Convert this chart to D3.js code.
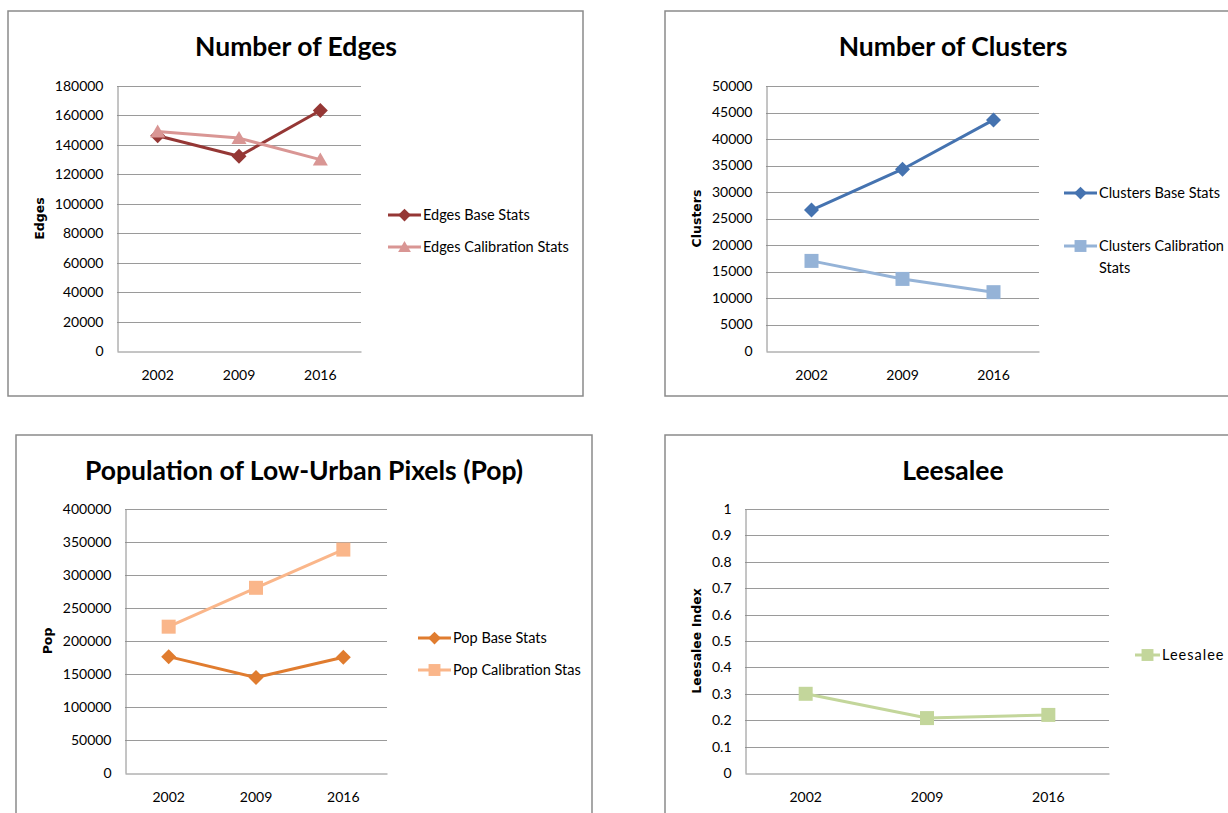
<!DOCTYPE html>
<html>
<head>
<meta charset="utf-8">
<script src="https://cdn.jsdelivr.net/npm/d3@7"></script>
<style>
  html, body { margin: 0; padding: 0; background: #fff; }
  svg { display: block; font-family: Lato, "Open Sans", sans-serif; }
</style>
</head>
<body>
<svg id="chart" width="1228" height="813"></svg>
<script>
// Years shared by all four panels
const years = ["2002", "2009", "2016"];

// Number of Edges
const edgesBase = [146200, 132300, 163400];
const edgesCalib = [149100, 144600, 130000];
const edgesTicks = [0, 20000, 40000, 60000, 80000, 100000, 120000, 140000, 160000, 180000];

// Number of Clusters
const clustersBase = [26600, 34300, 43600];
const clustersCalib = [17000, 13600, 11100];
const clustersTicks = [0, 5000, 10000, 15000, 20000, 25000, 30000, 35000, 40000, 45000, 50000];

// Population of Low-Urban Pixels
const popBase = [176300, 144600, 175400];
const popCalib = [221700, 280600, 338500];
const popTicks = [0, 50000, 100000, 150000, 200000, 250000, 300000, 350000, 400000];

// Leesalee index
const leesaleeVals = [0.30, 0.208, 0.22];
const leesaleeTicks = [0, 0.1, 0.2, 0.3, 0.4, 0.5, 0.6, 0.7, 0.8, 0.9, 1];

const svg = d3.select("#chart");
svg.append("rect").attr("width", 1228).attr("height", 813).attr("fill", "#fff");

const panels = [
  {
    frame: [8, 11, 575, 385],
    title: "Number of Edges", titleX: 296, titleY: 56,
    plot: { left: 117, right: 361, top: 86, bottom: 351 },
    yMax: 180000, ticks: edgesTicks, yTitle: "Edges", yTitleX: 44,
    series: [
      { name: "Edges Base Stats", values: edgesBase, color: "#953735", marker: "diamond", legendY: 215 },
      { name: "Edges Calibration Stats", values: edgesCalib, color: "#D99694", marker: "triangle", legendY: 247 }
    ],
    legendX: 388
  },
  {
    frame: [665, 11, 600, 385],
    title: "Number of Clusters", titleX: 953, titleY: 56,
    plot: { left: 766, right: 1039, top: 86, bottom: 351 },
    yMax: 50000, ticks: clustersTicks, yTitle: "Clusters", yTitleX: 701,
    series: [
      { name: "Clusters Base Stats", values: clustersBase, color: "#4573B0", marker: "diamond", legendY: 193 },
      { name: ["Clusters Calibration", "Stats"], values: clustersCalib, color: "#95B3D7", marker: "square", legendY: 246 }
    ],
    legendX: 1064
  },
  {
    frame: [16, 435, 576, 420],
    title: "Population of Low-Urban Pixels (Pop)", titleX: 304, titleY: 480,
    plot: { left: 125, right: 387, top: 509, bottom: 773 },
    yMax: 400000, ticks: popTicks, yTitle: "Pop", yTitleX: 52,
    series: [
      { name: "Pop Base Stats", values: popBase, color: "#E07C2F", marker: "diamond", legendY: 638 },
      { name: "Pop Calibration Stas", values: popCalib, color: "#FAB68A", marker: "square", legendY: 670 }
    ],
    legendX: 418
  },
  {
    frame: [665, 435, 600, 420],
    title: "Leesalee", titleX: 953, titleY: 480,
    plot: { left: 745, right: 1109, top: 509, bottom: 773 },
    yMax: 1, ticks: leesaleeTicks, yTitle: "Leesalee Index", yTitleX: 701,
    series: [
      { name: "Leesalee", values: leesaleeVals, color: "#C3D69B", marker: "square", legendY: 655 }
    ],
    legendX: 1135, legendLen: 25, legendSpacing: 1
  }
];

// Marker shapes: a square rotated 45° for diamonds, plus triangle and square
function markerPath(type) {
  if (type === "diamond") return "M0,-7.5L7.5,0L0,7.5L-7.5,0Z";
  if (type === "triangle") return "M0,-7L7.5,6L-7.5,6Z";
  return "M-7,-7H7V7H-7Z";
}

panels.forEach(p => {
  const g = svg.append("g");
  const [fx, fy, fw, fh] = p.frame;
  g.append("rect")
    .attr("x", fx).attr("y", fy).attr("width", fw).attr("height", fh)
    .attr("fill", "#fff").attr("stroke", "#8A8A8A").attr("stroke-width", 1.5);

  g.append("text")
    .attr("x", p.titleX).attr("y", p.titleY)
    .attr("text-anchor", "middle")
    .attr("font-weight", "bold").attr("font-size", 26.5)
    .attr("fill", "#000")
    .text(p.title);

  const x = d3.scaleBand().domain(years).range([p.plot.left, p.plot.right]);
  const y = d3.scaleLinear().domain([0, p.yMax]).range([p.plot.bottom, p.plot.top]);

  // horizontal gridlines
  g.append("g").selectAll("line").data(p.ticks.slice(1)).join("line")
    .attr("x1", p.plot.left).attr("x2", p.plot.right)
    .attr("y1", d => Math.round(y(d)) + 0.5).attr("y2", d => Math.round(y(d)) + 0.5)
    .attr("stroke", "#9A9A9A").attr("stroke-width", 1);

  // y axis
  const yAxis = g.append("g")
    .attr("transform", `translate(${p.plot.left + 0.5},0)`)
    .call(d3.axisLeft(y).tickValues(p.ticks).tickSize(0).tickPadding(14)
      .tickFormat(d => String(+d.toFixed(2))));
  yAxis.select(".domain").attr("stroke", "#8A8A8A");
  yAxis.selectAll("text").attr("font-size", 14).attr("fill", "#000")
    .attr("font-family", "Lato, sans-serif");

  // x axis
  const xAxis = g.append("g")
    .attr("transform", `translate(0,${p.plot.bottom + 0.5})`)
    .call(d3.axisBottom(x).tickSize(0).tickPadding(19));
  xAxis.select(".domain").attr("stroke", "#8A8A8A");
  xAxis.selectAll("text").attr("font-size", 14).attr("fill", "#000")
    .attr("font-family", "Lato, sans-serif");

  // y axis title
  g.append("text")
    .attr("transform", `translate(${p.yTitleX},${(p.plot.top + p.plot.bottom) / 2}) rotate(-90)`)
    .attr("text-anchor", "middle")
    .attr("font-family", "'DejaVu Sans', sans-serif")
    .attr("font-weight", "bold").attr("font-size", 12.5)
    .text(p.yTitle);

  const line = d3.line()
    .x((d, i) => x(years[i]) + x.bandwidth() / 2)
    .y(d => y(d));

  p.series.forEach(s => {
    g.append("path").datum(s.values)
      .attr("d", line)
      .attr("fill", "none").attr("stroke", s.color).attr("stroke-width", 3)
      .attr("stroke-linejoin", "round");
    g.append("g").selectAll("path").data(s.values).join("path")
      .attr("d", markerPath(s.marker))
      .attr("transform", (d, i) => `translate(${x(years[i]) + x.bandwidth() / 2},${y(d)})`)
      .attr("fill", s.color);

    // legend entry
    const len = p.legendLen || 33;
    const lg = g.append("g");
    lg.append("line")
      .attr("x1", p.legendX).attr("x2", p.legendX + len)
      .attr("y1", s.legendY).attr("y2", s.legendY)
      .attr("stroke", s.color).attr("stroke-width", 3);
    lg.append("path")
      .attr("d", markerPath(s.marker))
      .attr("transform", `translate(${p.legendX + len / 2},${s.legendY}) scale(0.85)`)
      .attr("fill", s.color);
    const names = Array.isArray(s.name) ? s.name : [s.name];
    const t = lg.append("text")
      .attr("x", p.legendX + len + 2).attr("y", s.legendY)
      .attr("font-size", 14.5).attr("fill", "#000")
      .attr("letter-spacing", p.legendSpacing || 0);
    names.forEach((n, k) => {
      t.append("tspan").attr("x", p.legendX + len + 2).attr("dy", k === 0 ? "0.35em" : 22).text(n);
    });
  });
});
</script>
</body>
</html>
